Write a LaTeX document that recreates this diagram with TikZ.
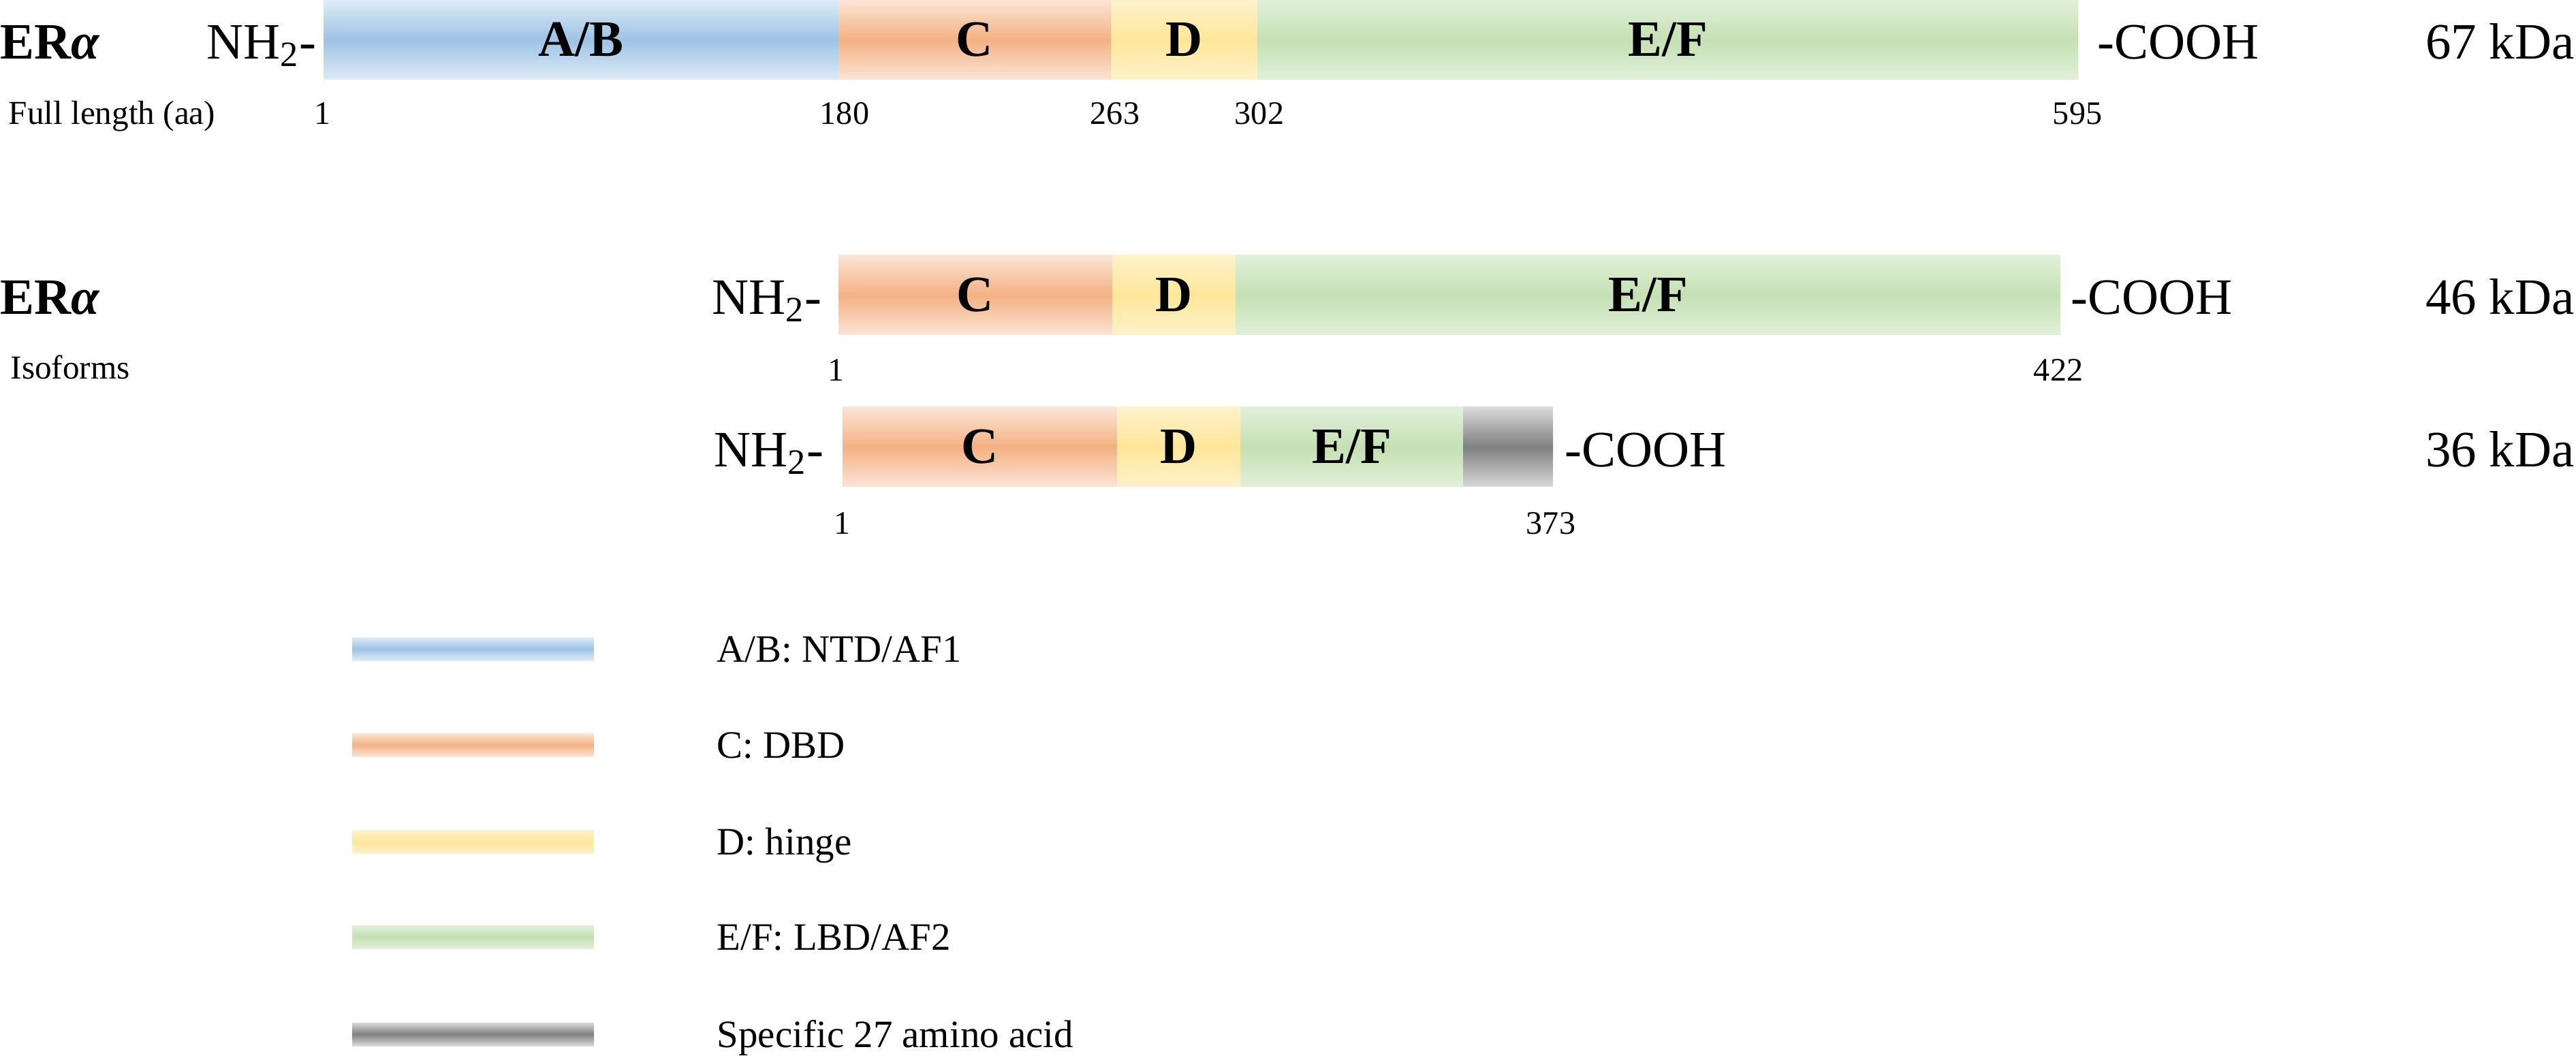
\documentclass[tikz,border=0pt]{standalone}
\usepackage{fontspec}
\setmainfont{Liberation Serif}
\usepackage{tikz}
\usetikzlibrary{positioning}
\usetikzlibrary{calc}
\definecolor{abdark}{HTML}{9DC3E6}
\definecolor{ablight}{HTML}{DEEBF7}
\definecolor{cdark}{HTML}{F4B183}
\definecolor{clight}{HTML}{FBE5D6}
\definecolor{ddark}{HTML}{FFE699}
\definecolor{dlight}{HTML}{FFF2CC}
\definecolor{efdark}{HTML}{C5E0B4}
\definecolor{eflight}{HTML}{E2F0D9}
\definecolor{grdark}{HTML}{808080}
\definecolor{grlight}{HTML}{D9D9D9}
\newcommand{\labelsize}{\fontsize{21.3}{25}\selectfont}
\newcommand{\numsize}{\fontsize{13.7}{16}\selectfont}
\newcommand{\keysize}{\fontsize{16.2}{19}\selectfont}
\tikzset{
    dombox/.style={minimum height=1.17cm, inner sep=0pt, outer sep=0pt, font=\labelsize\bfseries},
    abfill/.style={top color=ablight, bottom color=ablight, middle color=abdark},
    cfill/.style={top color=clight, bottom color=clight, middle color=cdark},
    dfill/.style={top color=dlight, bottom color=dlight, middle color=ddark},
    effill/.style={top color=eflight, bottom color=eflight, middle color=efdark},
    grfill/.style={top color=grlight, bottom color=grlight, middle color=grdark},
    term/.style={inner sep=0pt, font=\labelsize},
    aanum/.style={inner sep=0pt, anchor=base, font=\numsize},
    keybar/.style={minimum width=3.55cm, minimum height=0.34cm, inner sep=0pt, outer sep=0pt},
    keytext/.style={inner sep=0pt, anchor=base west, font=\keysize},
}

\begin{document}
\begin{tikzpicture}
	\useasboundingbox (0,0) rectangle (37.82,-15.54);
	% full length receptor
	\node[dombox, abfill, minimum width=7.56cm, anchor=north west] (ab1) at (4.75,0) {A/B};
	\node[dombox, cfill, minimum width=4.00cm, right=0pt of ab1] (c1) {C};
	\node[dombox, dfill, minimum width=2.15cm, right=0pt of c1] (d1) {D};
	\node[dombox, effill, minimum width=12.05cm, right=0pt of d1] (ef1) {E/F};
	%
	\node[term, anchor=base west, font=\labelsize\bfseries] (era1) at (0,-0.87) {ER\textit{α}};
	\node[term, anchor=base east] (nh1) at (4.65,-0.87) {NH\textsubscript{2}-};
	\node[term, anchor=base west] (co1) at (30.79,-0.87) {-COOH};
	\node[term, anchor=base east] (kd1) at (37.80,-0.87) {67 kDa};
	%
	\node[aanum, anchor=base west, font=\fontsize{14}{16}\selectfont] (full) at (0.12,-1.83) {Full length (aa)};
	\node[aanum] (n11) at (4.74,-1.83) {1};
	\node[aanum] (n12) at (12.40,-1.83) {180};
	\node[aanum] (n13) at (16.37,-1.83) {263};
	\node[aanum] (n14) at (18.49,-1.83) {302};
	\node[aanum] (n15) at (30.50,-1.83) {595};
	% 46 kDa isoform
	\node[dombox, cfill, minimum width=4.02cm, anchor=north west] (c2) at (12.31,-3.75) {C};
	\node[dombox, dfill, minimum width=1.81cm, right=0pt of c2] (d2) {D};
	\node[dombox, effill, minimum width=12.11cm, right=0pt of d2] (ef2) {E/F};
	%
	\node[term, anchor=base west, font=\labelsize\bfseries] (era2) at (0,-4.62) {ER\textit{α}};
	\node[aanum, anchor=base west, font=\fontsize{14}{16}\selectfont] (iso) at (0.15,-5.57) {Isoforms};
	\node[term, anchor=base east] (nh2) at (12.07,-4.62) {NH\textsubscript{2}-};
	\node[term, anchor=base west] (co2) at (30.40,-4.62) {-COOH};
	\node[term, anchor=base east] (kd2) at (37.80,-4.62) {46 kDa};
	\node[aanum] (n21) at (12.28,-5.60) {1};
	\node[aanum] (n22) at (30.22,-5.60) {422};
	% 36 kDa isoform
	\node[dombox, cfill, minimum width=4.03cm, anchor=north west] (c3) at (12.37,-5.98) {C};
	\node[dombox, dfill, minimum width=1.81cm, right=0pt of c3] (d3) {D};
	\node[dombox, effill, minimum width=3.27cm, right=0pt of d3] (ef3) {E/F};
	\node[dombox, grfill, minimum width=1.32cm, right=0pt of ef3] (gr3) {};
	%
	\node[term, anchor=base east] (nh3) at (12.10,-6.86) {NH\textsubscript{2}-};
	\node[term, anchor=base west] (co3) at (22.97,-6.86) {-COOH};
	\node[term, anchor=base east] (kd3) at (37.80,-6.86) {36 kDa};
	\node[aanum] (n31) at (12.37,-7.85) {1};
	\node[aanum] (n32) at (22.77,-7.85) {373};
	% key
	\foreach \sty/\txt/\y [count=\i] in {abfill/{A/B: NTD/AF1}/9.53, cfill/{C: DBD}/10.94,
			dfill/{D: hinge}/12.36, effill/{E/F: LBD/AF2}/13.76, grfill/{Specific 27 amino acid}/15.19}
	{
		\node[keybar, \sty] (key\i) at (6.945,-\y) {};
		\node[keytext] (keytxt\i) at (10.52,-\y-0.19) {\txt};
	}
\end{tikzpicture}
\end{document}
